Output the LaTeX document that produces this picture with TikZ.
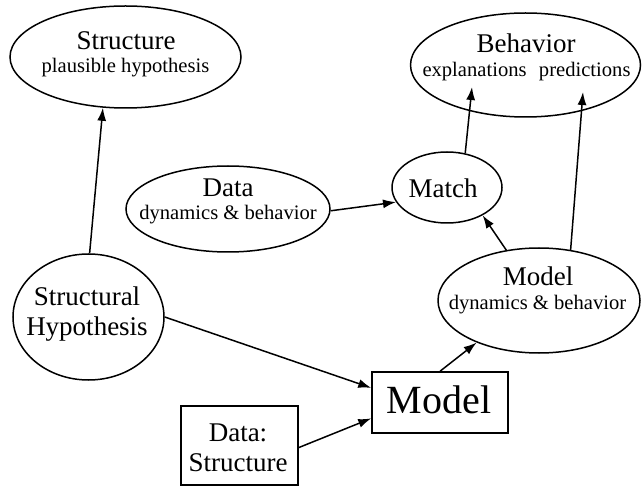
\documentclass[tikz,border=0pt]{standalone}
\usepackage{fontspec}
\setmainfont{Liberation Serif}
\usetikzlibrary{shapes.geometric,arrows.meta,calc}
\begin{document}
\begin{tikzpicture}[x=1pt,y=-1pt,
 shp/.style={draw,line width=1.5pt,inner sep=0pt},
 oval/.style={shp,ellipse},
 box/.style={shp,rectangle},
 ttl/.style={inner sep=0pt,anchor=base,font=\fontsize{27}{30}\selectfont},
 sub/.style={inner sep=0pt,anchor=base,font=\fontsize{20.6}{24}\selectfont},
 big/.style={inner sep=0pt,anchor=base,font=\fontsize{40}{44}\selectfont},
 arr/.style={line width=1.5pt,-{Latex[length=13pt,width=9pt]}}]
\useasboundingbox (0,0) rectangle (642,486);
% shapes
\node[oval,minimum width=231pt,minimum height=102pt] (struct) at (125.5,57) {};
\node[oval,minimum width=230pt,minimum height=104pt] (beh) at (525.5,65) {};
\node[oval,minimum width=204pt,minimum height=86pt] (data) at (228,209) {};
\node[oval,minimum width=110pt,minimum height=71pt] (match) at (447,187.5) {};
\node[oval,minimum width=202pt,minimum height=105pt] (model) at (539,300.5) {};
\node[oval,minimum width=151pt,minimum height=126pt] (sh) at (88.5,317) {};
\node[box,minimum width=136pt,minimum height=61pt] (mbox) at (440,402.5) {};
\node[box,minimum width=117pt,minimum height=79pt] (dsbox) at (239.5,445.5) {};
% texts
\node[ttl] (structT) at (126,50) {Structure};
\node[sub] (structS) at (125.5,72.5) {plausible hypothesis};
\node[ttl] (behT) at (526,53) {Behavior};
\node[sub] (behS) at (526.5,77) {explanations\hspace{0.6em}predictions};
\node[ttl] (dataT) at (228,197) {Data};
\node[sub] (dataS) at (228,220) {dynamics \& behavior};
\node[ttl] (matchT) at (443,198) {Match};
\node[ttl] (modelT) at (538,285) {Model};
\node[sub] (modelS) at (537.5,309) {dynamics \& behavior};
\node[ttl] (shT1) at (87,305) {Structural};
\node[ttl] (shT2) at (87,335) {Hypothesis};
\node[big] (mboxT) at (439,413) {Model};
\node[ttl] (dsT1) at (238,441.5) {Data:};
\node[ttl] (dsT2) at (238,471.5) {Structure};
% free ends inside Behavior
\coordinate (b1) at (472,87);
\coordinate (b2) at (583,92);
% connectors
\draw[arr] (sh.89) -- (struct.246);
\draw[arr] (data.359) -- (match.196);
\draw[arr] (match.62) -- (b1);
\draw[arr] (model.58) -- (b2);
\draw[arr] (model.123) -- (match.322);
\draw[arr] (sh.0) -- (mbox.168);
\draw[arr] (dsbox.358) -- (mbox.193);
\draw[arr] (mbox.north) -- (model.214);
\end{tikzpicture}
\end{document}
